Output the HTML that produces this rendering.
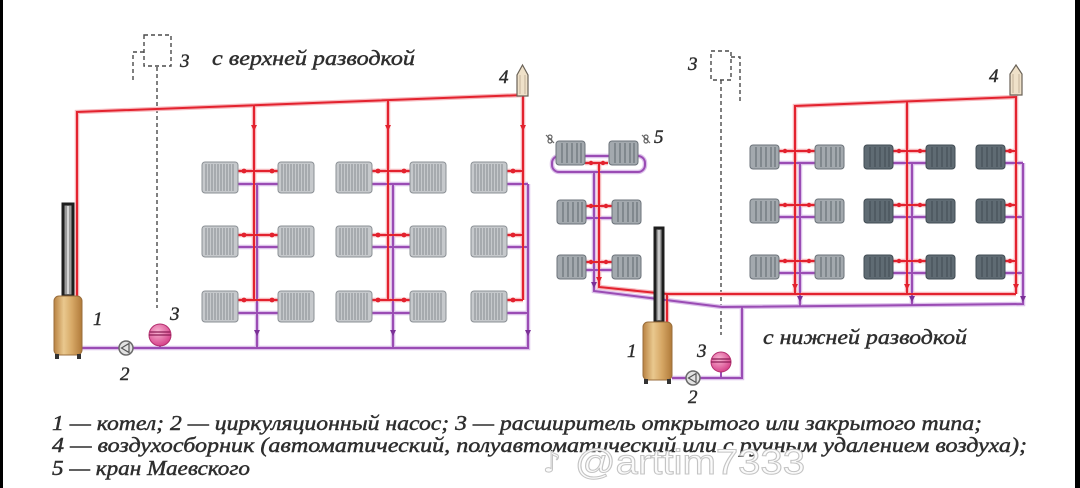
<!DOCTYPE html>
<html>
<head>
<meta charset="utf-8">
<style>
  html,body{margin:0;padding:0;background:#fff;}
  body{width:1080px;height:488px;overflow:hidden;}
  svg{display:block;}
  .t{font-family:"Liberation Serif","Noto Serif CJK SC",serif;font-style:italic;fill:#2e2e2e;stroke:#2e2e2e;stroke-width:0.45;}
</style>
</head>
<body>
<svg width="1080" height="488" viewBox="0 0 1080 488" xmlns="http://www.w3.org/2000/svg">
  <defs>
    <linearGradient id="gold" x1="0" y1="0" x2="1" y2="0">
      <stop offset="0" stop-color="#b98242"/>
      <stop offset="0.35" stop-color="#e9c88e"/>
      <stop offset="0.65" stop-color="#d6a765"/>
      <stop offset="1" stop-color="#b07a3a"/>
    </linearGradient>
    <radialGradient id="pink" cx="0.4" cy="0.35" r="0.7">
      <stop offset="0" stop-color="#f8b4d2"/>
      <stop offset="1" stop-color="#d43b86"/>
    </radialGradient>

    <g id="rL">
      <rect x="0" y="0" width="36" height="31" rx="3" fill="#c6c9cc" stroke="#8b9095" stroke-width="1"/>
      <path d="M4,2V29M7,2V29M10,2V29M13,2V29M16,2V29M19,2V29M22,2V29M25,2V29M28,2V29M31,2V29" stroke="#858a90" stroke-width="1"/>
    </g>
    <g id="rA">
      <rect x="0" y="0" width="29" height="24" rx="3" fill="#a3a9ae" stroke="#6b7279" stroke-width="1"/>
      <path d="M6,2V22M11,2V22M16,2V22M21,2V22M25,2V22" stroke="#6f767c" stroke-width="1.3"/>
    </g>
    <g id="rD">
      <rect x="0" y="0" width="29" height="24" rx="3" fill="#5f6b73" stroke="#414c54" stroke-width="1"/>
      <path d="M6,2V22M11,2V22M16,2V22M21,2V22M25,2V22" stroke="#48535b" stroke-width="1.3"/>
    </g>

    <g id="redL">
      <path d="M77,296V112L523,95V300"/>
      <path d="M254,105.3V300"/>
      <path d="M388,100.2V300"/>
      <path d="M238,171H278M372,171H410M507,171H523"/>
      <path d="M238,235H278M372,235H410M507,235H523"/>
      <path d="M238,300H278M372,300H410M507,300H523"/>
      <path d="M795,294V106L1016,97V294"/>
      <path d="M907,101.5V294"/>
      <path d="M599,163V287L667,294H1016"/>
      <path d="M667,294V322"/>
      <path d="M779,151H815M893,151H926M1005,151H1016"/>
      <path d="M779,205H815M893,205H926M1005,205H1016"/>
      <path d="M779,261H815M893,261H926M1005,261H1016"/>
      <path d="M585,163H608M585,206H612M585,262H612"/>
    </g>
    <g id="purL">
      <path d="M82,348H528V184"/>
      <path d="M257,184V348M393,184V348"/>
      <path d="M238,184H278M372,184H410M507,184H528"/>
      <path d="M238,247H278M372,247H410M507,247H528"/>
      <path d="M238,313H278M372,313H410M507,313H528"/>
      <path d="M672,378H742V307"/>
      <path d="M594,172V291L722,307L1023,304V163"/>
      <path d="M800,163V306M912,163V305"/>
      <path d="M779,163H815M893,163H926M1005,163H1023"/>
      <path d="M779,217H815M893,217H926M1005,217H1023"/>
      <path d="M779,273H815M893,273H926M1005,273H1023"/>
      <path d="M585,218H612M585,270H612"/>
      <rect x="552" y="156" width="93" height="16" rx="7"/>
    </g>
  </defs>

  <rect width="1080" height="488" fill="#fff"/>

  <g fill="none" stroke="#4a4a4a" stroke-width="1.4" stroke-dasharray="4,3">
    <rect x="144" y="35" width="27" height="31"/>
    <path d="M144,52H133V81"/>
    <path d="M157,67V308"/>
    <rect x="711" y="51" width="20" height="29"/>
    <path d="M731,57H740V103"/>
    <path d="M721,80V335"/>
  </g>

  <use href="#purL" fill="none" stroke="#dcc0ea" stroke-width="4.5"/>
  <use href="#redL" fill="none" stroke="#f7b9be" stroke-width="4.5"/>
  <use href="#purL" fill="none" stroke="#9a4cb4" stroke-width="2"/>
  <use href="#redL" fill="none" stroke="#e3222e" stroke-width="2"/>

  <use href="#rL" x="202" y="162"/><use href="#rL" x="278" y="162"/><use href="#rL" x="336" y="162"/><use href="#rL" x="410" y="162"/><use href="#rL" x="471" y="162"/>
  <use href="#rL" x="202" y="226"/><use href="#rL" x="278" y="226"/><use href="#rL" x="336" y="226"/><use href="#rL" x="410" y="226"/><use href="#rL" x="471" y="226"/>
  <use href="#rL" x="202" y="291"/><use href="#rL" x="278" y="291"/><use href="#rL" x="336" y="291"/><use href="#rL" x="410" y="291"/><use href="#rL" x="471" y="291"/>

  <use href="#rA" x="750" y="145"/><use href="#rA" x="815" y="145"/><use href="#rD" x="864" y="145"/><use href="#rD" x="926" y="145"/><use href="#rD" x="976" y="145"/>
  <use href="#rA" x="750" y="199"/><use href="#rA" x="815" y="199"/><use href="#rD" x="864" y="199"/><use href="#rD" x="926" y="199"/><use href="#rD" x="976" y="199"/>
  <use href="#rA" x="750" y="255"/><use href="#rA" x="815" y="255"/><use href="#rD" x="864" y="255"/><use href="#rD" x="926" y="255"/><use href="#rD" x="976" y="255"/>

  <use href="#rA" x="556" y="141"/><use href="#rA" x="609" y="141"/>
  <use href="#rA" x="557" y="200"/><use href="#rA" x="612" y="200"/>
  <use href="#rA" x="557" y="255"/><use href="#rA" x="612" y="255"/>
  <g fill="none" stroke="#666" stroke-width="1.2">
    <circle cx="550" cy="137" r="2"/><circle cx="550" cy="141" r="2"/><path d="M546,135L554,143"/>
    <circle cx="646" cy="137" r="2"/><circle cx="646" cy="141" r="2"/><path d="M642,135L650,143"/>
  </g>

  <g fill="#e3222e">
    <circle cx="244" cy="171" r="2.4"/><circle cx="272" cy="171" r="2.4"/><circle cx="378" cy="171" r="2.4"/><circle cx="404" cy="171" r="2.4"/><circle cx="513" cy="171" r="2.4"/>
    <circle cx="244" cy="235" r="2.4"/><circle cx="272" cy="235" r="2.4"/><circle cx="378" cy="235" r="2.4"/><circle cx="404" cy="235" r="2.4"/><circle cx="513" cy="235" r="2.4"/>
    <circle cx="244" cy="300" r="2.4"/><circle cx="272" cy="300" r="2.4"/><circle cx="378" cy="300" r="2.4"/><circle cx="404" cy="300" r="2.4"/><circle cx="513" cy="300" r="2.4"/>
    <circle cx="785" cy="151" r="2.2"/><circle cx="809" cy="151" r="2.2"/><circle cx="899" cy="151" r="2.2"/><circle cx="920" cy="151" r="2.2"/><circle cx="1010" cy="151" r="2.2"/>
    <circle cx="785" cy="205" r="2.2"/><circle cx="809" cy="205" r="2.2"/><circle cx="899" cy="205" r="2.2"/><circle cx="920" cy="205" r="2.2"/><circle cx="1010" cy="205" r="2.2"/>
    <circle cx="785" cy="261" r="2.2"/><circle cx="809" cy="261" r="2.2"/><circle cx="899" cy="261" r="2.2"/><circle cx="920" cy="261" r="2.2"/><circle cx="1010" cy="261" r="2.2"/>
    <circle cx="591" cy="163" r="2.2"/><circle cx="603" cy="163" r="2.2"/>
    <circle cx="591" cy="206" r="2.2"/><circle cx="606" cy="206" r="2.2"/>
    <circle cx="591" cy="262" r="2.2"/><circle cx="606" cy="262" r="2.2"/>
    <path d="M251,125H257L254,131Z"/><path d="M385,125H391L388,131Z"/><path d="M520,125H526L523,131Z"/>
    <path d="M792,284H798L795,290Z"/><path d="M904,284H910L907,290Z"/><path d="M1013,284H1019L1016,290Z"/>
    <path d="M596,277H602L599,283Z"/>
  </g>
  <g fill="#7a2f96">
    <path d="M254,330H260L257,336Z"/><path d="M390,330H396L393,336Z"/><path d="M525,330H531L528,336Z"/>
    <path d="M797,296H803L800,302Z"/><path d="M909,296H915L912,302Z"/><path d="M1020,296H1026L1023,302Z"/>
    <path d="M591,282H597L594,288Z"/>
  </g>

  <path d="M517,96V75L522.5,65L528,75V96Z" fill="#efe1c9" stroke="#6a6257" stroke-width="1.2"/>
  <path d="M520,75V94M525,75V94" stroke="#b9a98f" stroke-width="0.8"/>
  <path d="M1010,95V74L1016,65L1022,74V95Z" fill="#efe1c9" stroke="#6a6257" stroke-width="1.2"/>
  <path d="M1013,74V93M1019,74V93" stroke="#b9a98f" stroke-width="0.8"/>

  <rect x="63" y="204" width="10" height="92" fill="#9a9a9a" stroke="#1e1e1e" stroke-width="3"/>
  <path d="M68,206V294" stroke="#e8e8e8" stroke-width="1.5"/>
  <rect x="54" y="296" width="28" height="59" rx="5" fill="url(#gold)" stroke="#9a6e3c" stroke-width="1"/>
  <rect x="55" y="354" width="4" height="5" fill="#333"/><rect x="77" y="354" width="4" height="5" fill="#333"/>
  <circle cx="126" cy="348" r="7" fill="#e2e2e2" stroke="#6a6a6a" stroke-width="1.5"/>
  <path d="M121.5,348L129,343.5V352.5Z" fill="none" stroke="#555" stroke-width="1.2"/>
  <path d="M160,345V348" stroke="#9a4cb4" stroke-width="2"/>
  <circle cx="160" cy="335" r="11" fill="url(#pink)" stroke="#b3306f" stroke-width="1"/>
  <path d="M149,335H171M150,332H170" stroke="#8c1c55" stroke-width="1.2"/>

  <rect x="655" y="228" width="8" height="94" fill="#9a9a9a" stroke="#1e1e1e" stroke-width="3"/>
  <path d="M659,230V320" stroke="#e8e8e8" stroke-width="1.2"/>
  <rect x="643" y="322" width="29" height="58" rx="5" fill="url(#gold)" stroke="#9a6e3c" stroke-width="1"/>
  <rect x="644" y="379" width="4" height="5" fill="#333"/><rect x="667" y="379" width="4" height="5" fill="#333"/>
  <circle cx="693" cy="378" r="7" fill="#e2e2e2" stroke="#6a6a6a" stroke-width="1.5"/>
  <path d="M688.5,378L696,373.5V382.5Z" fill="none" stroke="#555" stroke-width="1.2"/>
  <path d="M721,371V378" stroke="#9a4cb4" stroke-width="2"/>
  <circle cx="721" cy="362" r="10" fill="url(#pink)" stroke="#b3306f" stroke-width="1"/>
  <path d="M711,362H731M712,359H730" stroke="#8c1c55" stroke-width="1.2"/>

  <g class="t" font-size="19">
    <text x="180" y="67">3</text>
    <text x="499" y="83">4</text>
    <text x="93" y="325">1</text>
    <text x="170" y="320">3</text>
    <text x="120" y="380">2</text>
    <text x="688" y="70">3</text>
    <text x="989" y="82">4</text>
    <text x="654" y="143">5</text>
    <text x="627" y="357">1</text>
    <text x="697" y="357">3</text>
    <text x="688" y="403">2</text>
  </g>
  <g class="t" font-size="21">
    <text x="212" y="65" textLength="203" lengthAdjust="spacingAndGlyphs">с верхней разводкой</text>
    <text x="763" y="344" textLength="204" lengthAdjust="spacingAndGlyphs">с нижней разводкой</text>
    <text x="52" y="430" textLength="930" lengthAdjust="spacingAndGlyphs">1 — котел; 2 — циркуляционный насос; 3 — расширитель открытого или закрытого типа;</text>
    <text x="52" y="452" textLength="975" lengthAdjust="spacingAndGlyphs">4 — воздухосборник (автоматический, полуавтоматический или с ручным удалением воздуха);</text>
    <text x="52" y="475" textLength="198" lengthAdjust="spacingAndGlyphs">5 — кран Маевского</text>
  </g>

  <text x="543" y="472" font-family="DejaVu Sans, sans-serif" font-size="28" fill="#fbfbfb" stroke="#c4c4c4" stroke-width="1">♪</text>
  <text x="575" y="474" font-family="Liberation Sans, sans-serif" font-size="35" fill="#fbfbfb" stroke="#c4c4c4" stroke-width="1" textLength="230" lengthAdjust="spacingAndGlyphs">@arttim7333</text>

  <rect x="0" y="0" width="3" height="488" fill="#000"/>
  <rect x="1075" y="0" width="5" height="488" fill="#000"/>
</svg>
</body>
</html>
